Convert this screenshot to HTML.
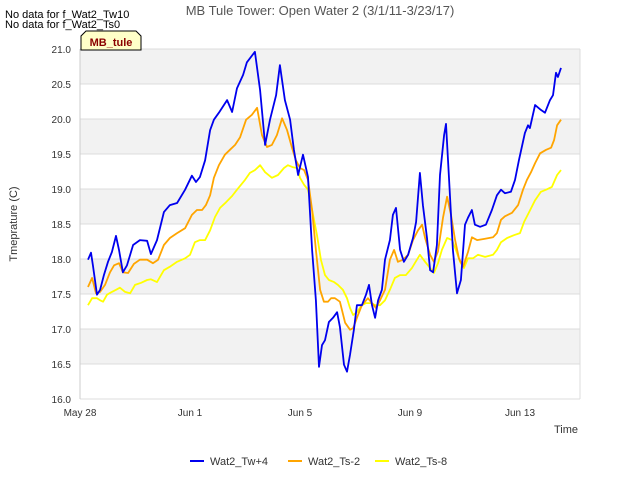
<!DOCTYPE html>
<html><head><meta charset="utf-8"><style>
body{margin:0;background:#fff;}
svg{font-family:"Liberation Sans",sans-serif;}
</style></head><body>
<svg id="chart" width="640" height="480">
<text x="5" y="18" font-size="11" fill="#000">No data for f_Wat2_Tw10</text>
<text x="5" y="28" font-size="11" fill="#000">No data for f_Wat2_Ts0</text>
<text x="320" y="15" font-size="13" fill="#555" text-anchor="middle">MB Tule Tower: Open Water 2 (3/1/11-3/23/17)</text>
<g id="bands"></g><g id="grid"></g><g id="axes"></g><g id="series"></g>
<path d="M81,50 L81,36 L86,31 L136,31 L141,36 L141,50 Z" fill="#ffffc8" stroke="#000" stroke-width="1"/>
<text x="111" y="46" font-size="11" font-weight="bold" fill="#8b0000" text-anchor="middle">MB_tule</text>
<text transform="translate(17,224) rotate(-90)" font-size="11" fill="#333" text-anchor="middle">Tmeprature (C)</text>
<text x="578" y="433" font-size="11" fill="#333" text-anchor="end">Time</text>
<g id="legend"></g>
</svg>
<script>
const xTickDays=[0,4,8,12,16];
const xTickLabels=["May 28","Jun 1","Jun 5","Jun 9","Jun 13"];
const yTicks=[16.0,16.5,17.0,17.5,18.0,18.5,19.0,19.5,20.0,20.5,21.0];
const seriesNames=["Wat2_Tw+4","Wat2_Ts-2","Wat2_Ts-8"];
const seriesColors=["#0000ee","#ffa500","#ffff00"];
const twDays=[0.29,0.40,0.47,0.62,0.73,0.87,1.02,1.16,1.31,1.42,1.56,1.71,1.93,2.18,2.44,2.58,2.80,3.05,3.27,3.53,3.82,4.07,4.22,4.36,4.55,4.73,4.87,5.05,5.35,5.53,5.71,5.93,6.07,6.36,6.55,6.73,6.91,7.13,7.27,7.45,7.64,7.78,7.93,8.11,8.29,8.44,8.58,8.69,8.80,8.91,9.05,9.20,9.35,9.45,9.60,9.71,9.82,9.96,10.07,10.25,10.40,10.51,10.62,10.73,10.84,10.98,11.09,11.27,11.38,11.49,11.64,11.78,11.93,12.11,12.22,12.36,12.47,12.62,12.73,12.84,12.98,13.09,13.24,13.31,13.42,13.56,13.71,13.85,14.00,14.11,14.25,14.36,14.55,14.76,14.98,15.16,15.31,15.45,15.67,15.82,15.96,16.18,16.29,16.36,16.55,16.76,16.91,17.09,17.20,17.31,17.38,17.49];
const twVals=[17.99,18.09,17.91,17.49,17.56,17.77,17.96,18.10,18.33,18.13,17.81,17.91,18.20,18.27,18.26,18.07,18.27,18.67,18.77,18.80,18.99,19.19,19.10,19.17,19.41,19.84,19.99,20.09,20.27,20.10,20.44,20.63,20.81,20.96,20.41,19.63,19.99,20.34,20.77,20.27,19.99,19.56,19.20,19.49,19.17,18.13,17.41,16.46,16.77,16.84,17.10,17.16,17.24,17.03,16.49,16.39,16.63,16.99,17.34,17.34,17.49,17.63,17.34,17.16,17.41,17.56,17.99,18.27,18.63,18.73,18.13,17.96,18.06,18.30,18.53,19.23,18.77,18.30,17.84,17.81,18.20,19.20,19.77,19.93,19.13,18.13,17.51,17.70,18.49,18.59,18.70,18.49,18.46,18.49,18.70,18.91,18.99,18.94,18.96,19.13,19.41,19.80,19.91,19.87,20.20,20.13,20.09,20.27,20.34,20.66,20.60,20.73];
const ts2Days=[0.29,0.44,0.58,0.73,0.91,1.09,1.24,1.42,1.56,1.75,1.96,2.18,2.44,2.65,2.84,3.05,3.27,3.53,3.82,4.07,4.25,4.44,4.58,4.73,4.87,5.05,5.27,5.45,5.64,5.82,6.04,6.25,6.44,6.62,6.80,6.98,7.16,7.35,7.53,7.71,7.85,8.00,8.15,8.29,8.44,8.58,8.73,8.87,9.02,9.13,9.27,9.45,9.64,9.82,9.93,10.11,10.25,10.47,10.62,10.76,10.91,11.09,11.27,11.42,11.56,11.75,11.93,12.11,12.29,12.44,12.55,12.73,12.87,13.02,13.20,13.35,13.49,13.64,13.78,13.93,14.11,14.25,14.44,14.73,15.02,15.16,15.31,15.45,15.71,15.93,16.11,16.25,16.40,16.55,16.73,16.95,17.13,17.24,17.35,17.49];
const ts2Vals=[17.60,17.73,17.51,17.53,17.63,17.81,17.91,17.94,17.81,17.80,17.93,17.99,17.99,17.94,17.99,18.20,18.30,18.37,18.44,18.63,18.70,18.70,18.77,18.91,19.16,19.34,19.49,19.56,19.63,19.74,19.99,20.06,20.16,19.77,19.60,19.63,19.77,20.01,19.84,19.59,19.41,19.30,19.27,19.13,18.70,18.13,17.56,17.39,17.39,17.44,17.44,17.39,17.09,16.99,17.01,17.20,17.34,17.44,17.37,17.30,17.41,17.56,17.99,18.13,17.96,17.99,18.06,18.27,18.41,18.49,18.30,18.06,17.96,18.11,18.59,18.89,18.63,18.27,18.01,17.89,18.10,18.31,18.27,18.29,18.31,18.37,18.56,18.61,18.66,18.77,18.99,19.13,19.24,19.37,19.51,19.56,19.59,19.70,19.91,19.99];
const ts8Days=[0.29,0.44,0.62,0.73,0.84,0.98,1.16,1.31,1.45,1.64,1.82,2.00,2.22,2.44,2.58,2.80,3.05,3.27,3.53,3.82,4.00,4.18,4.36,4.55,4.73,4.91,5.09,5.31,5.53,5.71,6.00,6.18,6.36,6.55,6.73,6.98,7.20,7.42,7.56,7.75,7.89,8.00,8.15,8.29,8.44,8.62,8.76,8.91,9.05,9.24,9.38,9.56,9.71,9.82,9.93,10.07,10.25,10.40,10.58,10.73,10.91,11.09,11.27,11.45,11.64,11.85,12.07,12.25,12.36,12.55,12.73,12.87,13.02,13.16,13.35,13.53,13.67,13.82,13.96,14.11,14.29,14.47,14.73,15.02,15.16,15.31,15.53,15.78,16.00,16.15,16.33,16.55,16.76,16.95,17.16,17.35,17.49];
const ts8Vals=[17.34,17.44,17.44,17.41,17.39,17.49,17.53,17.56,17.59,17.53,17.51,17.63,17.66,17.70,17.71,17.67,17.84,17.89,17.96,18.01,18.06,18.24,18.27,18.27,18.41,18.60,18.73,18.81,18.90,18.99,19.13,19.23,19.27,19.34,19.24,19.16,19.20,19.30,19.34,19.31,19.30,19.16,19.06,18.99,18.70,18.34,17.99,17.77,17.70,17.67,17.63,17.56,17.44,17.30,17.20,17.24,17.34,17.37,17.37,17.34,17.34,17.41,17.56,17.73,17.77,17.77,17.87,17.99,18.06,17.96,17.87,17.80,17.94,18.13,18.30,18.27,18.13,17.96,17.87,18.01,18.01,18.06,18.03,18.06,18.13,18.24,18.30,18.34,18.37,18.53,18.67,18.84,18.96,18.99,19.03,19.20,19.27];

const X0=80,X1=580,Y0=399,Y1=49,DMAX=500/27.5,VMIN=16,VMAX=21;
const xs=d=>X0+d/DMAX*(X1-X0);
const ys=v=>Y0-(v-VMIN)/(VMAX-VMIN)*(Y0-Y1);
const NS="http://www.w3.org/2000/svg";
function mk(parent,tag,attrs){const e=document.createElementNS(NS,tag);for(const k in attrs)e.setAttribute(k,attrs[k]);document.getElementById(parent).appendChild(e);return e;}

for(let i=0;i<yTicks.length-1;i++){
  if(i%2===1){
    const r=mk('bands','rect',{x:X0,y:ys(yTicks[i+1]),width:X1-X0,height:ys(yTicks[i])-ys(yTicks[i+1]),fill:'#f2f2f2'});
    
    
  }
}
yTicks.forEach(v=>{
  const l=mk('grid','line',{x1:X0,x2:X1,y1:ys(v),y2:ys(v),stroke:'#dcdcdc','stroke-width':1});
  
  
  const t=mk('axes','text',{x:X0-9,y:ys(v)+4,'font-size':10,fill:'#333','text-anchor':'end'});
  t.textContent=v.toFixed(1);
  
  
});
const vl=mk('grid','line',{x1:X1,x2:X1,y1:Y1,y2:Y0,stroke:'#dcdcdc'});


const ax=mk('axes','line',{x1:X0,x2:X0,y1:Y1,y2:Y0,stroke:'#ccc'});


xTickDays.forEach((d,i)=>{
  const t=mk('axes','text',{x:xs(d),y:Y0+17,'font-size':10,fill:'#333','text-anchor':'middle'});
  t.textContent=xTickLabels[i];
  
  
});
const allDays=[twDays,ts2Days,ts8Days],allVals=[twVals,ts2Vals,ts8Vals];
[2,1,0].forEach(s=>{
  const pts=allDays[s].map((d,i)=>xs(d).toFixed(1)+','+ys(allVals[s][i]).toFixed(1)).join(' ');
  const p=mk('series','polyline',{points:pts,fill:'none',stroke:seriesColors[s],'stroke-width':1.8,'stroke-linejoin':'round'});
  
  
});
const lx=[190,288,375];
seriesNames.forEach((n,i)=>{
  const l=mk('legend','line',{x1:lx[i],x2:lx[i]+14,y1:461,y2:461,stroke:seriesColors[i],'stroke-width':2});
  
  
  const t=mk('legend','text',{x:lx[i]+20,y:465,'font-size':11,fill:'#333'});
  t.textContent=n;
  
  
});
</script>
</body></html>
